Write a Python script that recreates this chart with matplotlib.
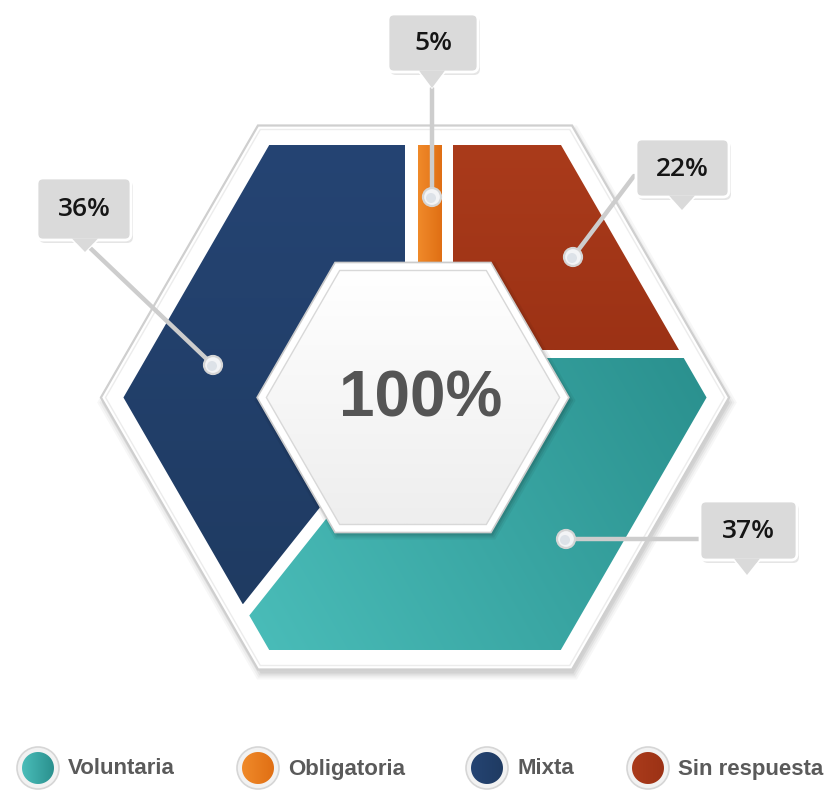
import numpy as np
import matplotlib.pyplot as plt
from matplotlib.patches import Polygon, Circle, FancyBboxPatch
from matplotlib.colors import to_rgb

# datos
categories = ["Voluntaria", "Obligatoria", "Mixta", "Sin respuesta"]
values = [37, 5, 36, 22]
total_label = "100%"
dark_colors = ["#2a908e", "#e06f14", "#1f3b62", "#9c3215"]
light_colors = ["#4abdb9", "#f08a2a", "#254473", "#aa3b1b"]

NARROW = ["Liberation Sans Narrow", "Liberation Sans", "DejaVu Sans"]
LABEL_FONT = ["Open Sans", "Lato", "DejaVu Sans"]

W, H = 830, 791
fig = plt.figure(figsize=(W / 100, H / 100), dpi=100)
ax = fig.add_axes([0, 0, 1, 1])
ax.axis("off")


def hexagon(cx, cy, h):
    w = 2 * h / np.sqrt(3)
    return np.array([(cx - w / 2, cy - h), (cx + w / 2, cy - h), (cx + w, cy),
                     (cx + w / 2, cy + h), (cx - w / 2, cy + h), (cx - w, cy)])


def clip_poly(subject, clipper):
    # Sutherland-Hodgman, clipper convexo
    def inside(p, a, b, s):
        return s * ((b[0] - a[0]) * (p[1] - a[1]) - (b[1] - a[1]) * (p[0] - a[0])) >= 0

    def inter(p, q, a, b):
        x1, y1 = p; x2, y2 = q; x3, y3 = a; x4, y4 = b
        den = (x1 - x2) * (y3 - y4) - (y1 - y2) * (x3 - x4)
        t = ((x1 - x3) * (y3 - y4) - (y1 - y3) * (x3 - x4)) / den
        return (x1 + t * (x2 - x1), y1 + t * (y2 - y1))

    cen = np.mean(clipper, axis=0)
    out = [tuple(p) for p in subject]
    for i in range(len(clipper)):
        a, b = clipper[i], clipper[(i + 1) % len(clipper)]
        s = 1 if ((b[0] - a[0]) * (cen[1] - a[1]) - (b[1] - a[1]) * (cen[0] - a[0])) >= 0 else -1
        inp, out = out, []
        for j in range(len(inp)):
            p, q = inp[j], inp[(j + 1) % len(inp)]
            if inside(q, a, b, s):
                if not inside(p, a, b, s):
                    out.append(inter(p, q, a, b))
                out.append(q)
            elif inside(p, a, b, s):
                out.append(inter(p, q, a, b))
    return np.array(out)


def gradient_fill(verts, c1, c2, angle, zorder):
    patch = Polygon(verts, closed=True, fc="none", ec="none", zorder=zorder)
    ax.add_patch(patch)
    verts = np.asarray(verts)
    x0, y0 = verts.min(axis=0)
    x1, y1 = verts.max(axis=0)
    X, Y = np.meshgrid(np.linspace(0, 1, 120), np.linspace(0, 1, 120))
    a = np.deg2rad(angle)
    t = X * np.cos(a) + Y * np.sin(a)
    t = (t - t.min()) / (t.max() - t.min())
    img = np.array(to_rgb(c1))[None, None, :] * (1 - t[..., None]) + \
        np.array(to_rgb(c2))[None, None, :] * t[..., None]
    im = ax.imshow(img, extent=(x0, x1, y1, y0), origin="upper", aspect="auto",
                   interpolation="bilinear", zorder=zorder)
    im.set_clip_path(patch)


# geometría
cx, cy = 415, 397.5
frame_h, color_h, centre_h = 272, 252.5, 135
mixta_right, obl_left, obl_right, sin_left = 405, 418, 442, 453
sin_bottom, vol_top = 350, 358
gap = 6
d = np.array([246 - cx, 610 - cy])
d = d / np.linalg.norm(d)
n = np.array([-d[1], d[0]])  # normal hacia arriba-izquierda
C = np.array([cx, cy])
color_hex = hexagon(cx, cy, color_h)

# sombra y marco exterior
for k, al in enumerate([0.03, 0.04, 0.05, 0.06]):
    ax.add_patch(Polygon(hexagon(cx + 2, cy + 5, frame_h + 5 - 2 * k), fc="#000000",
                         ec="none", alpha=al, zorder=1))
ax.add_patch(Polygon(hexagon(cx, cy, frame_h), fc="white", ec="#cfcfcf", lw=1.6, zorder=2))
ax.add_patch(Polygon(hexagon(cx, cy, frame_h - 4), fc="none", ec="#ececec", lw=1.0, zorder=2))

# segmentos
seg_polys = {
    "Mixta": [(0, 100), (mixta_right, 100), (mixta_right, cy), tuple(C + gap * n),
              tuple(C + gap * n + 600 * d), (0, 900)],
    "Voluntaria": [tuple(C - gap * n), (cx + 5, vol_top), (800, vol_top), (800, 900),
                   tuple(C - gap * n + 600 * d)],
    "Sin respuesta": [(sin_left, 100), (800, 100), (800, sin_bottom), (sin_left, sin_bottom)],
    "Obligatoria": [(obl_left, 100), (obl_right, 100), (obl_right, sin_bottom), (obl_left, sin_bottom)],
}
seg_angles = {"Voluntaria": -20, "Obligatoria": 0, "Mixta": 90, "Sin respuesta": 90}
for cat, c_dark, c_light in zip(categories, dark_colors, light_colors):
    poly = clip_poly(seg_polys[cat], color_hex)
    gradient_fill(poly, c_light, c_dark, seg_angles[cat], 3)

# hexágono central
ccx, ccy = 413, 397.5
for k, al in enumerate([0.05, 0.07, 0.09]):
    ax.add_patch(Polygon(hexagon(ccx + 2, ccy + 3, centre_h + 4 - 2 * k), fc="#000000",
                         ec="none", alpha=al, zorder=6))
ax.add_patch(Polygon(hexagon(ccx, ccy, centre_h), fc="white", ec="#cccccc", lw=1.2, zorder=7))
gradient_fill(hexagon(ccx, ccy, centre_h - 8), "#ffffff", "#eeeeee", 90, 7.5)
ax.add_patch(Polygon(hexagon(ccx, ccy, centre_h - 8), fc="none", ec="#d8d8d8", lw=1.0, zorder=7.6))
ax.text(ccx + 8, ccy + 2, total_label, fontsize=46, fontweight="bold", family=NARROW,
        color="#555555", ha="center", va="center", zorder=8)

# etiquetas con globo
# (caja x0, y0, x1, y1), punta del globo, inicio de la línea, marcador
callouts = {
    "Obligatoria": ((388, 14, 478, 72), (432, 88), (432, 88), (432, 197)),
    "Sin respuesta": ((636, 139, 729, 197), (682, 210), (634, 176), (573, 257)),
    "Mixta": ((37, 178, 131, 240), (85, 252), (88, 246), (213, 365)),
    "Voluntaria": ((700, 501, 797, 560), (747, 575), (699, 539), (566, 539)),
}
for cat, val in zip(categories, values):
    (x0, y0, x1, y1), tip, start, mk = callouts[cat]
    ax.plot([start[0], mk[0]], [start[1], mk[1]], color="#cdcdcd", lw=3.2,
            solid_capstyle="round", zorder=9)
    ax.add_patch(Circle(mk, 9, fc="#f3f4f6", ec="#d5d5d5", lw=1.6, zorder=10))
    ax.add_patch(Circle((mk[0] - 1, mk[1] + 1), 5, fc="#dde2e8", ec="none", zorder=10.5))
    ax.add_patch(FancyBboxPatch((x0 + 2, y0 + 3), x1 - x0, y1 - y0,
                                boxstyle="round,pad=0,rounding_size=6",
                                fc="#000000", ec="none", alpha=0.10, zorder=11))
    ax.add_patch(FancyBboxPatch((x0, y0), x1 - x0, y1 - y0,
                                boxstyle="round,pad=0,rounding_size=6",
                                fc="#dadada", ec="white", lw=2, zorder=12))
    ax.add_patch(Polygon([(tip[0] - 13, y1 - 1.5), (tip[0] + 13, y1 - 1.5), tip],
                         fc="#dadada", ec="none", zorder=12.5))
    ax.plot([tip[0] - 13, tip[0], tip[0] + 13], [y1, tip[1], y1], color="white",
            lw=1.2, zorder=12.4)
    ax.text((x0 + x1) / 2, (y0 + y1) / 2 + 1, f"{val}%", fontsize=19, fontweight="semibold",
            family=LABEL_FONT, color="#151515", ha="center", va="center", zorder=13)

# leyenda
legend_x = [38, 258, 487, 648]
legend_y = 768
for lx, cat, c_dark, c_light in zip(legend_x, categories, dark_colors, light_colors):
    ax.add_patch(Circle((lx, legend_y), 21, fc="#f2f2f2", ec="#d6d6d6", lw=1.2, zorder=3))
    circ = [(lx + 16 * np.cos(t), legend_y + 16 * np.sin(t)) for t in np.linspace(0, 2 * np.pi, 60)]
    gradient_fill(circ, c_light, c_dark, 0, 4)
    ax.text(lx + 30, legend_y + 1, cat, fontsize=16, fontweight="bold", family=NARROW,
            color="#5a5a5a", ha="left", va="center", zorder=5)

ax.set_xlim(0, W)
ax.set_ylim(H, 0)
fig.savefig("out.png", dpi=100, facecolor="white")
